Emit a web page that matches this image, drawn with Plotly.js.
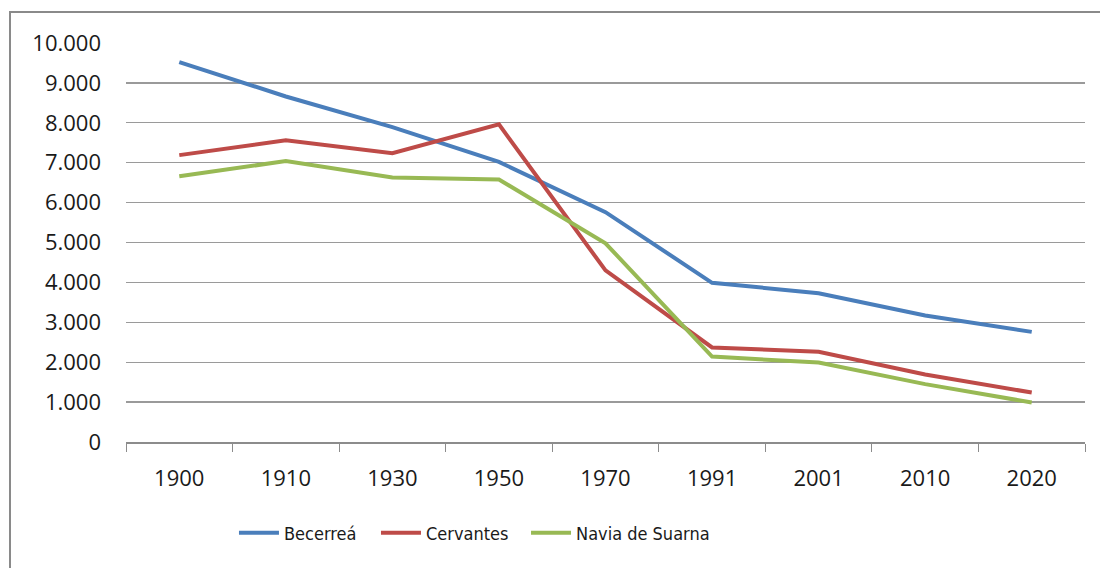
<!DOCTYPE html>
<html>
<head>
<meta charset="utf-8">
<script src="https://cdn.plot.ly/plotly-3.0.1.min.js"></script>
<style>
html,body{margin:0;padding:0;background:#fff;}
#wrap{position:relative;width:1100px;height:568px;}
#chart{width:1100px;height:568px;}
#frame{position:absolute;left:9px;top:11px;width:1200px;height:700px;border-left:2px solid #8a8a8a;border-top:2px solid #8a8a8a;pointer-events:none;}
</style>
</head>
<body>
<div id="wrap"><div id="chart"></div><div id="frame"></div></div>
<script>
const years = ["1900","1910","1930","1950","1970","1991","2001","2010","2020"];
const becerrea = [9520, 8660, 7890, 7020, 5760, 3990, 3730, 3170, 2760];
const cervantes = [7190, 7560, 7240, 7960, 4300, 2370, 2260, 1690, 1240];
const navia = [6660, 7040, 6630, 6580, 4980, 2140, 1990, 1450, 990];
const seriesNames = ["Becerreá", "Cervantes", "Navia de Suarna"];
const yTicks = [0,1000,2000,3000,4000,5000,6000,7000,8000,9000,10000];
const yTickText = ["0","1.000","2.000","3.000","4.000","5.000","6.000","7.000","8.000","9.000","10.000"];

const colors = ["#4a7ebb", "#be4b48", "#98b954"];
const font = "'Open Sans', 'Liberation Sans', sans-serif";
const narrow = "'Liberation Sans Narrow', 'DejaVu Sans Condensed', 'Open Sans', sans-serif";
const legendIds = ["legend", "legend2", "legend3"];
const legendX = [0.2127, 0.3418, 0.4782];
const traces = [becerrea, cervantes, navia].map((v, i) => ({
  type: "scatter", mode: "lines", x: years, y: v, name: seriesNames[i],
  line: {color: colors[i], width: 4}, legend: legendIds[i]
}));

const layout = {
  width: 1100, height: 568,
  margin: {l: 126, r: 15, t: 43, b: 126},
  paper_bgcolor: "#fff", plot_bgcolor: "#fff",
  font: {family: font, size: 22, color: "#1a1a1a"},
  showlegend: true,
  xaxis: {type: "category", range: [-0.5, 8.5], tickson: "boundaries", ticks: "outside", ticklen: 8, tickcolor: "#8c8c8c",
          showline: true, linecolor: "#8c8c8c", linewidth: 1.5, showgrid: false, ticklabelstandoff: 16, automargin: false,
          tickfont: {family: font, size: 22, color: "#1a1a1a"}, fixedrange: true},
  yaxis: {range: [0, 10000], tickvals: yTicks, ticktext: yTickText, showgrid: true,
          gridcolor: "#9a9a9a", gridwidth: 1.3, zeroline: false, showline: false, ticks: "",
          ticklabelstandoff: 24, automargin: false,
          tickfont: {family: font, size: 22, color: "#1a1a1a"}, fixedrange: true}
};
legendIds.forEach((id, i) => {
  layout[id] = {orientation: "h", xref: "container", yref: "container", x: legendX[i], xanchor: "left",
                y: 0.0616, yanchor: "middle", bgcolor: "rgba(0,0,0,0)", itemwidth: 40,
                font: {family: narrow, size: 18, color: "#1a1a1a"}};
});

Plotly.newPlot("chart", traces, layout, {displayModeBar: false, staticPlot: true});
</script>
</body>
</html>
